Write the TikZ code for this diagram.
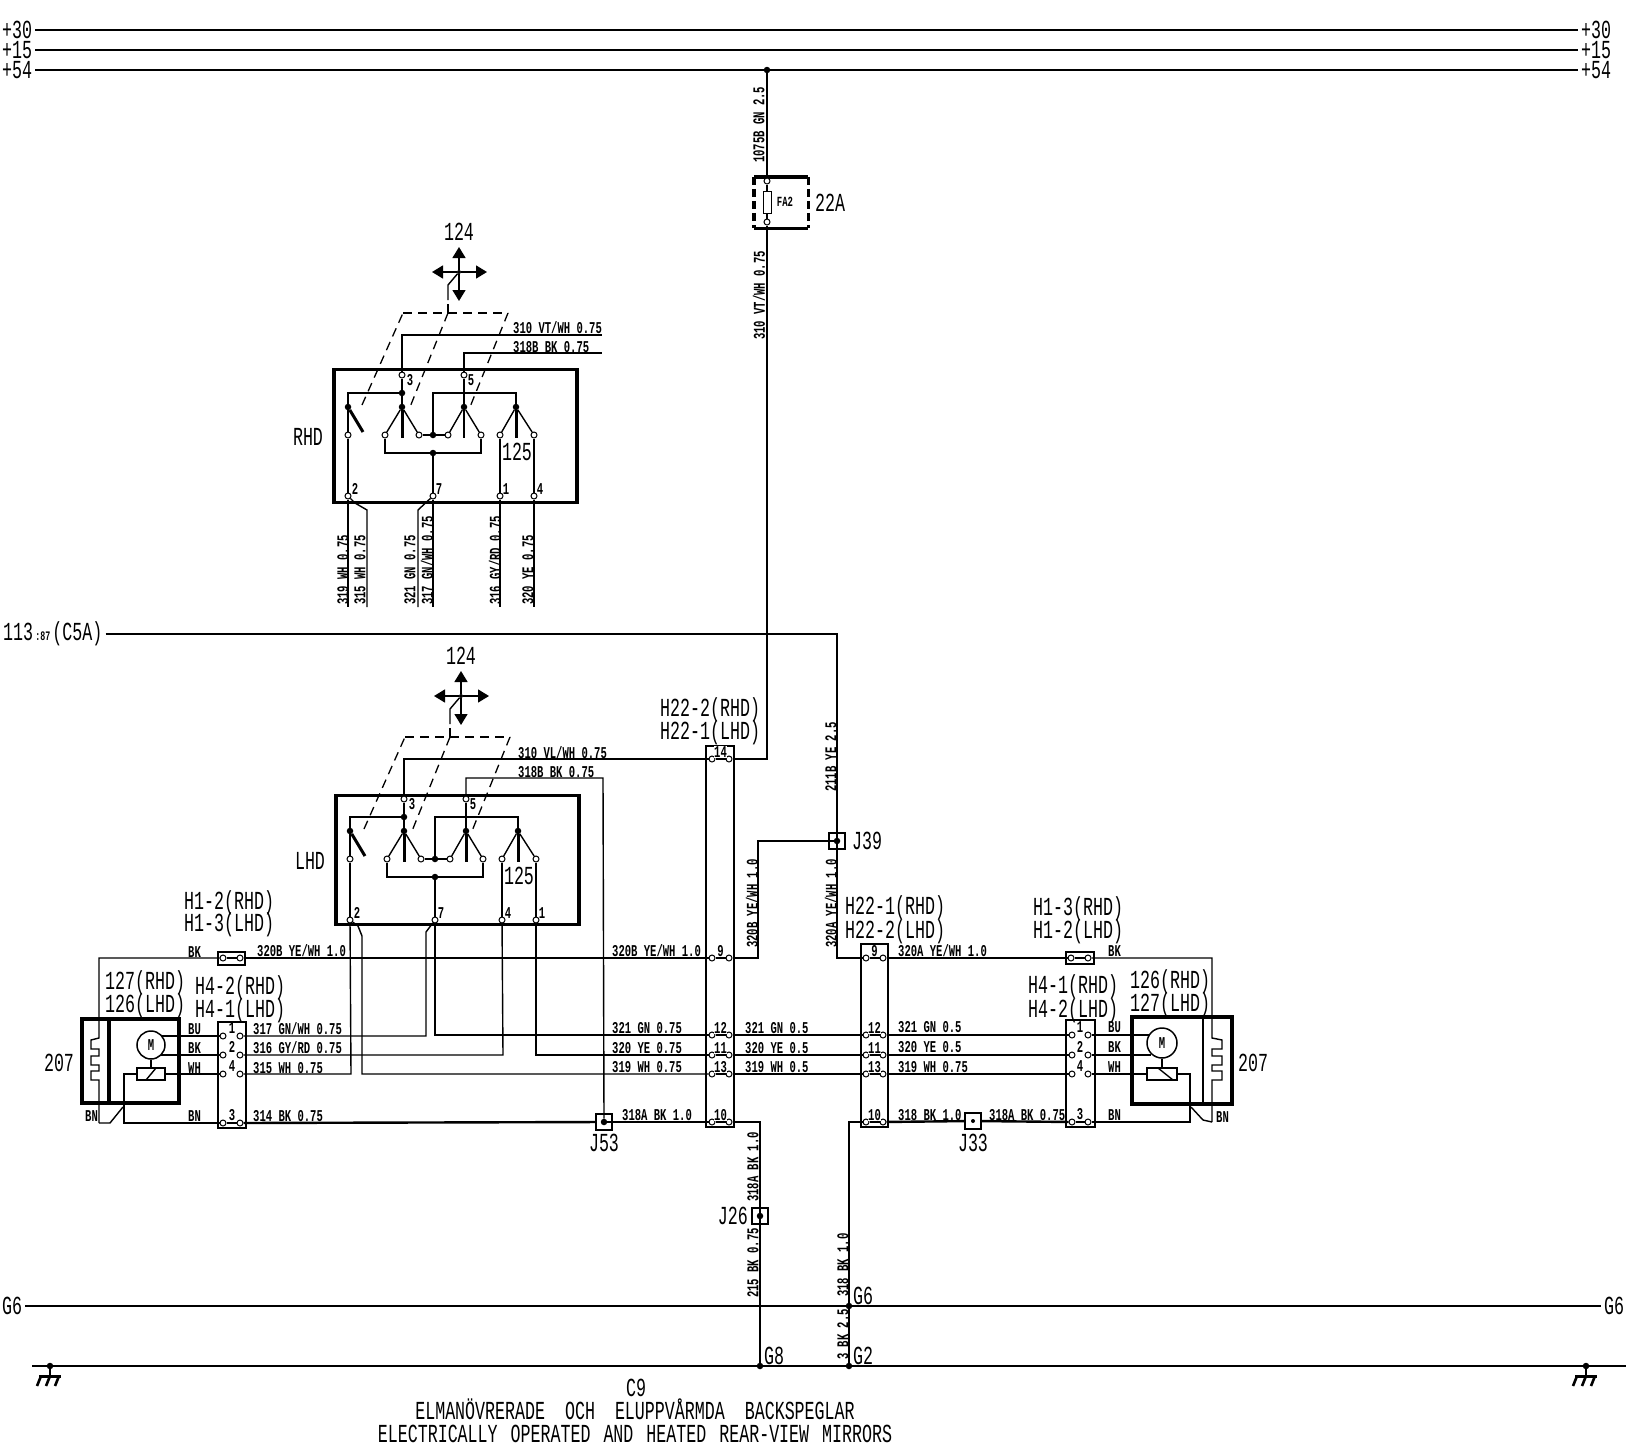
\documentclass[tikz,border=0pt]{standalone}
\usepackage{fontspec}
\setmainfont[FakeStretch=0.64]{Liberation Mono}
\usetikzlibrary{arrows.meta}
\begin{document}
\begin{tikzpicture}[x=1pt,y=-1pt]
	\tikzstyle{wire}=[line width=1.4pt]
	\tikzstyle{heavy}=[line width=2.4pt]
	\tikzstyle{rail}=[line width=2pt]
	\tikzstyle{frame}=[line width=3.6pt]
	\tikzstyle{blade}=[line width=3pt]
	\tikzstyle{linkage}=[line width=1.3pt,dash pattern=on 9pt off 6pt]
	\tikzstyle{dirarrow}=[line width=1.5pt,-{Triangle[length=11pt,width=13pt]}]
	\tikzstyle{term}=[circle,draw,fill=white,line width=1pt,minimum size=6pt,inner sep=0pt]
	\tikzstyle{dot}=[circle,fill=black,minimum size=6.5pt,inner sep=0pt]
	\tikzstyle{conn}=[rectangle,draw,line width=1.7pt,inner sep=0pt]
	\tikzstyle{splice}=[rectangle,draw,line width=1.8pt,minimum size=16pt,inner sep=0pt]
	\tikzstyle{swbox}=[rectangle,draw,line width=3.6pt,minimum width=243pt,inner sep=0pt]
	\tikzstyle{lab}=[inner sep=0pt,font=\fontsize{26}{28}\selectfont]
	\tikzstyle{endlab}=[lab,inner xsep=3pt,inner ysep=0pt]
	\tikzstyle{wlab}=[inner sep=0pt,anchor=west,font=\fontsize{16.5}{18}\selectfont\bfseries]
	\tikzstyle{vlab}=[wlab,rotate=90]
	\tikzstyle{pin}=[inner sep=0pt,font=\fontsize{16.5}{18}\selectfont\bfseries]
	\useasboundingbox (0,0) rectangle (1626,1456);

	% supply and earth rails
	\node[endlab,anchor=west] (P30L) at (-1,30) {+30};
	\node[endlab,anchor=west] (P15L) at (-1,50) {+15};
	\node[endlab,anchor=west] (P54L) at (-1,70) {+54};
	\node[endlab,anchor=west] (P30R) at (1578,30) {+30};
	\node[endlab,anchor=west] (P15R) at (1578,50) {+15};
	\node[endlab,anchor=west] (P54R) at (1578,70) {+54};
	\node[endlab,anchor=west] (G6L) at (-1,1306) {G6};
	\node[endlab,anchor=west] (G6R) at (1601,1306) {G6};
	\node[endlab,anchor=west] (F113) at (0,634) {113{\fontsize{13}{14}\selectfont\bfseries\,:87\,}(C5A)};
	\node[dot] (J54) at (767,70) {};
	\node[dot] (JG6) at (849,1306) {};
	\node[dot] (JG8) at (760,1366) {};
	\node[dot] (JG2) at (849,1366) {};
	\node[lab,anchor=west] (LG6) at (853,1296) {G6};
	\node[lab,anchor=west] (LG8) at (764,1356) {G8};
	\node[lab,anchor=west] (LG2) at (853,1356) {G2};
	\coordinate (E0L) at (32,1366);
	\coordinate (E0R) at (1626,1366);
	\draw[rail] (P30L) -- (P30R);
	\draw[line width=2.8pt] (P15L) -- (P15R);
	\draw[wire] (P54L) -- (J54);
	\draw[rail] (J54) -- (P54R);
	\draw[rail] (G6L) -- (JG6);
	\draw[wire] (JG6) -- (G6R);
	\draw[heavy] (E0L) -- (JG8);
	\draw[wire] (JG8) -- (E0R);
	\foreach \gnd/\gx in {GA/50,GB/1586} {
		\node[dot] (\gnd) at (\gx,1366) {};
		\coordinate (\gnd s) at (\gx,1376);
		\draw[wire] (\gnd) -- (\gnd s);
		\draw[line width=3pt] (\gx-11,1376) -- (\gx+11,1376);
		\foreach \tick in {-9,0,9}
			\draw[line width=2.6pt] (\gx+\tick,1376) -- (\gx+\tick-4,1386);
	}

	% fuse
	\node[inner sep=0pt,minimum width=54pt,minimum height=51pt] (FB) at (781,202.5) {};
	\draw[line width=3.4pt] (FB.north west) -- (FB.north east);
	\draw[line width=3.4pt] (FB.south west) -- (FB.south east);
	\draw[line width=3.4pt,dash pattern=on 8pt off 4pt] (FB.north west) -- (FB.south west);
	\draw[line width=3.4pt,dash pattern=on 8pt off 4pt] (FB.north east) -- (FB.south east);
	\node[rectangle,draw,line width=1pt,minimum width=8pt,minimum height=22pt,inner sep=0pt] (FA) at (767,202) {};
	\node[term] (FT) at (767,181) {};
	\node[term] (FU) at (767,222) {};
	\node[inner sep=0pt,font=\fontsize{14}{15}\selectfont\bfseries] (FL) at (785,202) {FA2};
	\node[lab,anchor=west] (F22) at (815,203) {22A};
	\draw[wire] (J54) -- (FT);
	\draw[wire] (FT) -- (FA);
	\draw[wire] (FA) -- (FU);
	\node[vlab] (W1075) at (759,163) {1075B GN 2.5};
	\node[vlab] (W310) at (759,340) {310 VT/WH 0.75};

	% both mirror switches
	\foreach \sw/\dx/\dy/\boxh/\swname/\ta/\tb/\tw/\bw in {R/0/0/133/RHD/1/4/1.3pt/1.6pt,L/2/424/129/LHD/4/1/2.4pt/3pt} {
	\begin{scope}[shift={(\dx,\dy)},name prefix=\sw-]
		\node[swbox,minimum height=\boxh] (box) at (455.5,436) {};
		\node[term] (t3) at (402,375) {};
		\node[term] (t5) at (464,375) {};
		\node[term] (t2) at (348,496) {};
		\node[term] (t7) at (433,496) {};
		\node[term] (ta) at (500,496) {};
		\node[term] (tb) at (534,496) {};
		\node[dot] (j1) at (402,393) {};
		\node[dot] (p0) at (348,407) {};
		\node[dot] (p1) at (402,407) {};
		\node[dot] (p2) at (464,407) {};
		\node[dot] (p3) at (516,407) {};
		\node[term] (c0) at (348,435) {};
		\node[term] (c1) at (385,435) {};
		\node[term] (c2) at (419,435) {};
		\node[dot] (j2) at (433,435) {};
		\node[term] (c3) at (448,435) {};
		\node[term] (c4) at (481,435) {};
		\node[term] (c5) at (500,435) {};
		\node[term] (c6) at (534,435) {};
		\node[dot] (j3) at (433,453) {};
		\coordinate (b0) at (363,432);
		\coordinate (b1) at (402,438);
		\coordinate (b2) at (464,438);
		\coordinate (b3) at (516,438);
		\coordinate (k1) at (433,393);

		\draw[wire] (t3) -- (p1);
		\draw[wire] (t5) -- (p2);
		\draw[wire] (j1) -| (p0);
		\draw[blade] (p0) -- (b0);
		\draw[blade] (p1) -- (b1);
		\draw[line width=\bw] (p2) -- (b2);
		\draw[blade] (p3) -- (b3);
		\draw[wire] (p0) -- (c0);
		\draw[wire] (c0) -- (t2);
		\draw[wire] (p1) -- (c1);
		\draw[wire] (p1) -- (c2);
		\draw[wire] (p2) -- (c3);
		\draw[wire] (p2) -- (c4);
		\draw[wire] (p3) -- (c5);
		\draw[wire] (p3) -- (c6);
		\draw[wire] (c2) -- (c3);
		\draw[wire] (j2) -- (k1) -| (p3);
		\draw[wire] (c1) |- (j3);
		\draw[wire] (j3) -| (c4);
		\draw[wire] (j3) -- (t7);
		\draw[wire] (c5) -- (ta);
		\draw[wire] (c6) -- (tb);

		\coordinate (d0) at (403,313);
		\coordinate (d1) at (448,313);
		\coordinate (d2) at (508,313);
		\coordinate (e0) at (362,405);
		\coordinate (e1) at (410,407);
		\coordinate (e2) at (470,407);
		\draw[linkage] (e0) -- (d0);
		\draw[linkage,line width=\tw] (d0) -- (d2);
		\draw[linkage] (d2) -- (e2);
		\draw[linkage] (d1) -- (e1);

		\node[dot,minimum size=4pt] (hub) at (459,272) {};
		\coordinate (au) at (459,247);
		\coordinate (ad) at (459,301);
		\coordinate (al) at (432,272);
		\coordinate (ar) at (487,272);
		\coordinate (h1) at (448,285);
		\coordinate (h2) at (448,300);
		\coordinate (h3) at (448,304);
		\draw[dirarrow] (hub) -- (au);
		\draw[dirarrow] (hub) -- (ad);
		\draw[dirarrow] (hub) -- (al);
		\draw[dirarrow] (hub) -- (ar);
		\draw[wire] (hub) -- (h1) -- (h2);
		\draw[wire] (h3) -- (d1);

		\node[lab] (l124) at (459,232) {124};
		\node[lab] (l125) at (517,452) {125};
		\node[lab] (lname) at (308,437) {\swname};
		\node[pin] (n3) at (410,380) {3};
		\node[pin] (n5) at (471,380) {5};
		\node[pin] (n2) at (355,489) {2};
		\node[pin] (n7) at (439,489) {7};
		\node[pin] (na) at (506,489) {\ta};
		\node[pin] (nb) at (540,489) {\tb};
	\end{scope}
	}

	% free wires of the upper switch
	\coordinate (R310) at (602,335);
	\coordinate (R318) at (602,353);
	\coordinate (R319) at (348,607);
	\coordinate (R315) at (367,607);
	\coordinate (R321) at (418,607);
	\coordinate (R317) at (433,607);
	\coordinate (R316) at (500,607);
	\coordinate (R320) at (534,607);
	\draw[wire] (R-t3) |- (R310);
	\draw[wire] (R-t5) |- (R318);
	\draw[heavy] (R-t2) -- (R319);
	\draw[wire] (R-t2) -- (355,503) -- (367,510) -- (R315);
	\draw[heavy] (R-t7) -- (R317);
	\draw[wire] (R-t7) -- (418,510) -- (R321);
	\draw[wire] (R-ta) -- (R316);
	\draw[heavy] (R-tb) -- (R320);
	\node[wlab] (R310L) at (513,328) {310 VT/WH 0.75};
	\node[wlab] (R318L) at (513,347) {318B BK 0.75};
	\node[vlab] (R319L) at (343,605) {319 WH 0.75};
	\node[vlab] (R315L) at (360,605) {315 WH 0.75};
	\node[vlab] (R321L) at (410,605) {321 GN 0.75};
	\node[vlab] (R317L) at (427,605) {317 GN/WH 0.75};
	\node[vlab] (R316L) at (495,605) {316 GY/RD 0.75};
	\node[vlab] (R320L) at (528,605) {320 YE 0.75};

	% centre connectors
	\node[conn,minimum width=28pt,minimum height=381pt] (HA) at (720,936.5) {};
	\node[conn,minimum width=27pt,minimum height=183pt] (HB) at (874.5,1035.5) {};
	\foreach \row/\ry in {14/759,9/958,12/1035,11/1055,13/1074,10/1122} {
		\node[term] (HA\row a) at (712,\ry) {};
		\node[term] (HA\row b) at (729,\ry) {};
		\draw[wire] (HA\row a) -- (HA\row b);
		\node[pin,fill=white,inner sep=0.5pt] (HA\row n) at (720.5,\ry-7) {\row};
	}
	\foreach \row/\ry in {9/958,12/1035,11/1055,13/1074,10/1122} {
		\node[term] (HB\row a) at (866,\ry) {};
		\node[term] (HB\row b) at (883,\ry) {};
		\draw[wire] (HB\row a) -- (HB\row b);
		\node[pin,fill=white,inner sep=0.5pt] (HB\row n) at (874.5,\ry-7) {\row};
	}
	\node[lab,anchor=west] (HA1) at (660,710) {H22-2(RHD)};
	\node[lab,anchor=west] (HA2) at (660,733) {H22-1(LHD)};
	\node[lab,anchor=west] (HB1) at (845,908) {H22-1(RHD)};
	\node[lab,anchor=west] (HB2) at (845,932) {H22-2(LHD)};

	% splices
	\node[splice] (J39) at (837,841) {};
	\node[dot] (J39d) at (837,841) {};
	\node[lab,anchor=west] (J39L) at (852,841) {J39};
	\node[splice] (J53) at (604,1122) {};
	\node[dot] (J53d) at (604,1122) {};
	\node[lab] (J53L) at (604,1143) {J53};
	\node[splice] (J33) at (973,1121) {};
	\node[dot,minimum size=4pt] (J33d) at (973,1121) {};
	\node[lab] (J33L) at (973,1143) {J33};
	\node[splice] (J26) at (760,1216) {};
	\node[dot] (J26d) at (760,1216) {};
	\node[lab,anchor=east] (J26L) at (748,1216) {J26};

	% feed to the connectors
	\draw[wire] (FU) -- (767,759) -- (HA14b);
	\draw[rail] (F113) -- (837,634) -- (J39d);
	\draw[heavy] (J39d) -| (758,958) -- (HA9b);
	\draw[wire] (J39d) |- (HB9a);
	\draw[heavy] (L-t3) |- (HA14a);
	\draw[wire] (L-t5) |- (603,778) -- (J53d);
	\node[wlab] (L310L) at (518,753) {310 VL/WH 0.75};
	\node[wlab] (L318L) at (518,772) {318B BK 0.75};
	\node[vlab] (V211) at (831,792) {211B YE 2.5};
	\node[vlab] (V320B) at (752,948) {320B YE/WH 1.0};
	\node[vlab] (V320A) at (831,948) {320A YE/WH 1.0};

	% earth drops
	\draw[wire] (HA10b) -| (J26d);
	\draw[heavy] (J26d) -- (JG8);
	\draw[wire] (HB10a) -| (JG6);
	\draw[wire] (JG6) -- (JG2);
	\node[vlab] (V318A) at (753,1202) {318A BK 1.0};
	\node[vlab] (V215) at (753,1298) {215 BK 0.75};
	\node[vlab] (V318) at (843,1297) {318 BK 1.0};
	\node[vlab] (V3) at (843,1360) {3 BK 2.5};

	% left mirror
	\node[rectangle,draw,line width=3.6pt,minimum width=97pt,minimum height=84pt,inner sep=0pt] (ML) at (130.5,1061) {};
	\draw[frame] (109,1019) -- (109,1103);
	\node[circle,draw,line width=1.5pt,minimum size=28pt,inner sep=0pt,font=\fontsize{16.5}{18}\selectfont\bfseries] (MOL) at (151,1045) {M};
	\node[rectangle,draw,line width=1.6pt,minimum width=28pt,minimum height=12pt,inner sep=0pt] (REL) at (151,1074) {};
	\draw[wire] (MOL) -- (REL);
	\draw[wire] (146,1080) -- (156,1068);
	\node[conn,minimum width=28pt,minimum height=106pt] (HC) at (232,1075) {};
	\node[conn,minimum width=27pt,minimum height=13pt] (HD) at (231.5,958.5) {};
	\node[term] (HD1) at (223,958) {};
	\node[term] (HD2) at (240,958) {};
	\draw[wire] (HD1) -- (HD2);
	\foreach \row/\ry/\ty/\col/\wtxt in {1/1036/1029/BU/317 GN{/}WH 0.75,2/1055/1048/BK/316 GY{/}RD 0.75,4/1074/1068/WH/315 WH 0.75,3/1123/1116/BN/314 BK 0.75} {
		\node[term] (HC\row a) at (223,\ry) {};
		\node[term] (HC\row b) at (240,\ry) {};
		\node[pin] (HC\row n) at (232,\ry-8) {\row};
		\node[wlab] (HC\row c) at (188,\ty) {\col};
		\node[wlab] (HC\row w) at (253,\ty) {\wtxt};
	}
	\draw[wire] (HC3a) -- (HC3b);
	\coordinate (HTL) at (99,1038);
	\coordinate (HBL) at (99,1123);
	\draw[wire] (HD1) -- (99,958) -- (HTL) -- (91,1040) -- (91,1049) -- (99,1049) -- (99,1056) -- (91,1056) -- (91,1065) -- (99,1065) -- (99,1071) -- (91,1071) -- (91,1080) -- (99,1080) -- (HBL);
	\draw[wire] (HBL) -- (110,1123) -- (123,1107);
	\draw[wire] (REL) -- (124,1074) -- (124,1123) -- (HC3a);
	\draw[wire] (161,1036) -- (HC1a);
	\draw[wire] (161,1055) -- (HC2a);
	\draw[wire] (REL) -- (HC4a);
	\node[wlab] (BKL) at (188,952) {BK};
	\node[wlab] (BNL) at (85,1116) {BN};
	\node[wlab] (W320L) at (257,951) {320B YE/WH 1.0};
	\node[lab,anchor=west] (LH11) at (184,903) {H1-2(RHD)};
	\node[lab,anchor=west] (LH12) at (184,925) {H1-3(LHD)};
	\node[lab,anchor=west] (LM1) at (105,983) {127(RHD)};
	\node[lab,anchor=west] (LM2) at (105,1006) {126(LHD)};
	\node[lab,anchor=west] (LH41) at (195,988) {H4-2(RHD)};
	\node[lab,anchor=west] (LH42) at (195,1011) {H4-1(LHD)};
	\node[lab] (L207) at (59,1063) {207};

	% wires between left connector, lower switch and centre connector
	\draw[heavy] (HD2) -- (HA9a);
	\draw[wire] (HC1b) -- (426,1036) -- (426,932) -- (L-t7);
	\draw[wire] (L-t7) |- (HA12a);
	\draw[wire] (HC2b) -- (503,1055) -- (L-ta);
	\draw[heavy] (L-tb) |- (HA11a);
	\draw[wire] (HC4b) -- (351,1074) -- (L-t2);
	\draw[wire] (L-t2) -- (358,926) -- (362,936) -- (362,1074) -- (HA13a);
	\draw[heavy] (HC3b) -- (J53);
	\draw[wire] (J53d) -- (HA10a);
	\node[wlab] (A321) at (612,1028) {321 GN 0.75};
	\node[wlab] (A320) at (612,1048) {320 YE 0.75};
	\node[wlab] (A319) at (612,1067) {319 WH 0.75};
	\node[wlab] (A318) at (622,1115) {318A BK 1.0};
	\node[wlab] (A320B) at (612,951) {320B YE/WH 1.0};

	% between the centre connectors
	\draw[wire] (HA12b) -- (HB12a);
	\draw[heavy] (HA11b) -- (HB11a);
	\draw[wire] (HA13b) -- (HB13a);
	\node[wlab] (B321) at (745,1028) {321 GN 0.5};
	\node[wlab] (B320) at (745,1048) {320 YE 0.5};
	\node[wlab] (B319) at (745,1067) {319 WH 0.5};

	% right mirror
	\node[rectangle,draw,line width=3.6pt,minimum width=100pt,minimum height=87pt,inner sep=0pt] (MR) at (1182,1060.5) {};
	\draw[rail] (1203,1017) -- (1203,1104);
	\node[circle,draw,line width=1.5pt,minimum size=30pt,inner sep=0pt,font=\fontsize{16.5}{18}\selectfont\bfseries] (MOR) at (1162,1043) {M};
	\node[rectangle,draw,line width=1.6pt,minimum width=30pt,minimum height=12pt,inner sep=0pt] (RER) at (1162,1074) {};
	\draw[wire] (MOR) -- (RER);
	\draw[wire] (1158,1068) -- (1173,1080);
	\node[conn,minimum width=29pt,minimum height=107pt] (HE) at (1080.5,1073.5) {};
	\node[conn,minimum width=28pt,minimum height=12pt] (HF) at (1080,958) {};
	\node[term] (HF1) at (1071,958) {};
	\node[term] (HF2) at (1088,958) {};
	\draw[wire] (HF1) -- (HF2);
	\foreach \row/\ry/\ty/\col in {1/1035/1027/BU,2/1055/1047/BK,4/1074/1067/WH,3/1122/1115/BN} {
		\node[term] (HE\row a) at (1072,\ry) {};
		\node[term] (HE\row b) at (1088,\ry) {};
		\node[pin] (HE\row n) at (1080,\ry-8) {\row};
		\node[wlab] (HE\row c) at (1108,\ty) {\col};
	}
	\draw[wire] (HE3a) -- (HE3b);
	\draw[wire] (HB9b) -- (HF1);
	\coordinate (HTR) at (1212,1038);
	\coordinate (HBR) at (1212,1122);
	\draw[wire] (HF2) -- (1212,958) -- (HTR) -- (1222,1040) -- (1222,1049) -- (1212,1049) -- (1212,1056) -- (1222,1056) -- (1222,1065) -- (1212,1065) -- (1212,1071) -- (1222,1071) -- (1222,1080) -- (1212,1080) -- (HBR);
	\draw[wire] (HBR) -- (1203,1120) -- (1191,1107);
	\draw[wire] (RER) -- (1190,1074) -- (1190,1122) -- (HE3b);
	\draw[heavy] (HE1b) -- (1149,1035);
	\draw[heavy] (HE2b) -- (1151,1055);
	\draw[wire] (HE4b) -- (RER);
	\draw[heavy] (HB12b) -- (HE1a);
	\draw[heavy] (HB11b) -- (HE2a);
	\draw[wire] (HB13b) -- (HE4a);
	\draw[heavy] (HB10b) -- (J33);
	\draw[heavy] (J33) -- (HE3a);
	\node[wlab] (C320) at (898,951) {320A YE/WH 1.0};
	\node[wlab] (C321) at (898,1027) {321 GN 0.5};
	\node[wlab] (C3205) at (898,1047) {320 YE 0.5};
	\node[wlab] (C319) at (898,1067) {319 WH 0.75};
	\node[wlab] (C318) at (898,1115) {318 BK 1.0};
	\node[wlab] (C318A) at (989,1115) {318A BK 0.75};
	\node[wlab] (BKR) at (1108,951) {BK};
	\node[wlab] (BNR) at (1216,1117) {BN};
	\node[lab,anchor=west] (RH11) at (1033,909) {H1-3(RHD)};
	\node[lab,anchor=west] (RH12) at (1033,932) {H1-2(LHD)};
	\node[lab,anchor=west] (RH41) at (1028,987) {H4-1(RHD)};
	\node[lab,anchor=west] (RH42) at (1028,1011) {H4-2(LHD)};
	\node[lab,anchor=west] (RM1) at (1130,982) {126(RHD)};
	\node[lab,anchor=west] (RM2) at (1130,1005) {127(LHD)};
	\node[lab,anchor=west] (R207) at (1238,1063) {207};

	% title
	\node[lab] (TC9) at (636,1388) {C9};
	\node[lab] (TSE) at (635,1409) {ELMANÖVRERADE\hspace{10pt} OCH\hspace{10pt} ELUPPVÅRMDA\hspace{10pt} BACKSPEGLAR};
	\node[lab] (TEN) at (635,1434) {ELECTRICALLY\hspace{3pt} OPERATED\hspace{3pt} AND\hspace{3pt} HEATED\hspace{3pt} REAR-VIEW\hspace{3pt} MIRRORS};
\end{tikzpicture}
\end{document}
